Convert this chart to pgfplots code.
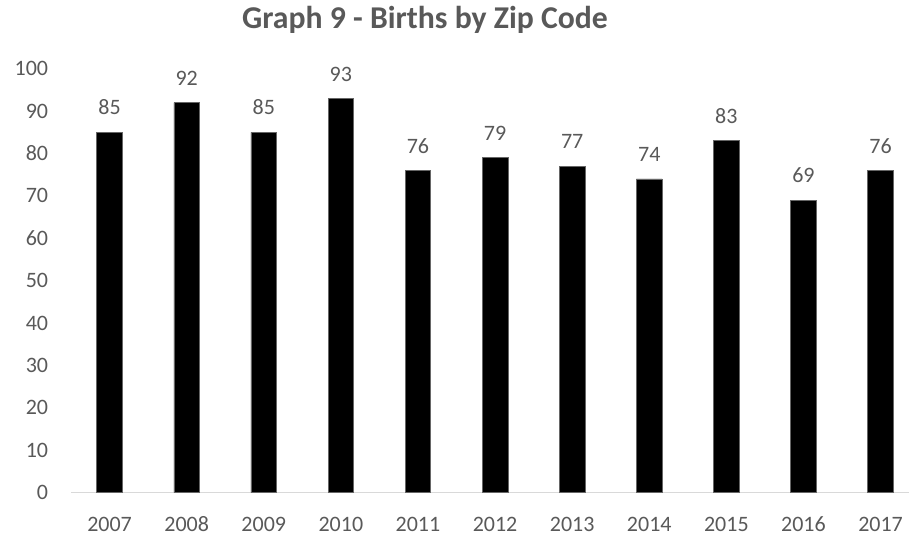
\documentclass[border=0pt]{standalone}
\usepackage{fontspec}
\setmainfont{Carlito}
\usepackage{pgfplots}
\pgfplotsset{compat=1.18}
\definecolor{txt}{HTML}{595959}
\definecolor{axl}{HTML}{D9D9D9}
\begin{document}
\begin{tikzpicture}
\useasboundingbox (0,0) rectangle (681.75pt,405pt);
\node[font=\fontsize{23.8}{28}\selectfont\bfseries, text=txt] at (318.75pt,390pt) {Graph 9 - Births by Zip Code};
\begin{scope}[overlay]
\begin{axis}[
  at={(53.25pt,35.5pt)}, anchor=south west,
  scale only axis, width=628.5pt, height=318pt,
  xmin=-0.5, xmax=10.369, ymin=0, ymax=100,
  axis y line=none, axis x line*=bottom,
  x axis line style={draw=axl, line width=1pt, -},
  xtick={0,...,10},
  xticklabels={2007,2008,2009,2010,2011,2012,2013,2014,2015,2016,2017},
  major tick length=0pt,
  tick label style={font=\fontsize{16.5}{20}\selectfont, text=txt, inner sep=0pt},
  xticklabel style={anchor=base, yshift=-29.25pt},
  /pgf/number format/assume math mode=true,
  clip=false,
  nodes near coords,
  every node near coord/.append style={font=\fontsize{16.5}{20}\selectfont, text=txt, anchor=base, inner sep=0pt, yshift=13pt},
]
\addplot[ybar, bar width=19.2pt, fill=black, draw=black!60, line width=0.4pt] coordinates {
(0,85) (1,92) (2,85) (3,93) (4,76) (5,79) (6,77) (7,74) (8,83) (9,69) (10,76)};
\end{axis}
\begin{axis}[
  at={(53.25pt,35.5pt)}, anchor=south west,
  scale only axis, width=628.5pt, height=318pt,
  xmin=-0.5, xmax=10.369, ymin=0, ymax=100,
  axis x line=none, axis y line*=left, y axis line style={draw=none},
  ytick={0,10,...,100},
  major tick length=0pt,
  tick label style={font=\fontsize{16.5}{20}\selectfont, text=txt, inner sep=0pt},
  yticklabel style={anchor=base east, xshift=-17pt, yshift=-5.2pt},
  /pgf/number format/assume math mode=true,
]
\end{axis}
\end{scope}
\end{tikzpicture}
\end{document}
